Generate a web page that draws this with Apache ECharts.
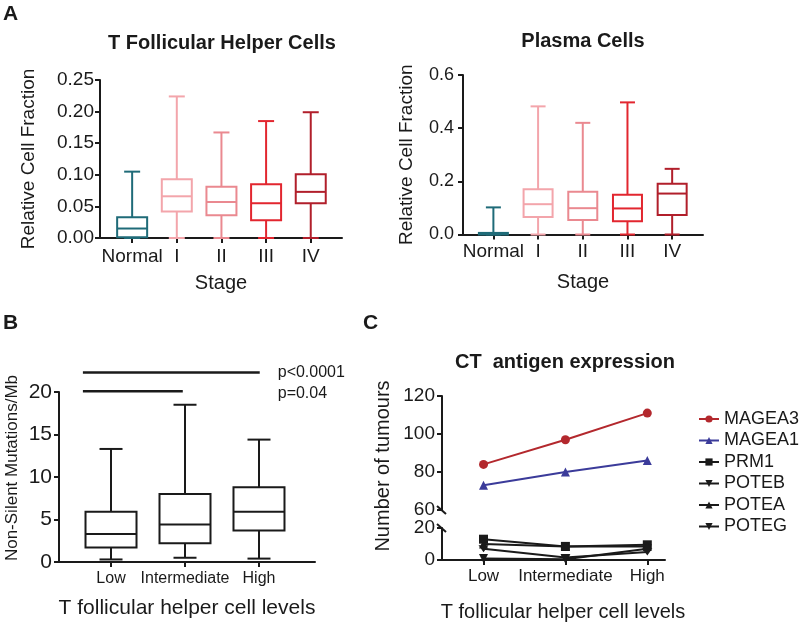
<!DOCTYPE html>
<html>
<head>
<meta charset="utf-8">
<script src="https://cdn.jsdelivr.net/npm/echarts@6/dist/echarts.min.js"></script>
<style>
  html, body { margin: 0; padding: 0; background: #fff; }
  #chart { width: 800px; height: 625px; }
</style>
</head>
<body>
<div id="chart"></div>
<script>
// panel A: stages, box stats as [min, Q1, median, Q3, max]
const stages = ['Normal', 'I', 'II', 'III', 'IV']
const stageColors = ['#1f6b78', '#f3a5ab', '#ea8990', '#e2262f', '#b11f2b']
const tfhBoxes = [
  [0, 0.001, 0.015, 0.033, 0.105],
  [0, 0.042, 0.066, 0.093, 0.224],
  [0, 0.036, 0.057, 0.081, 0.167],
  [0, 0.028, 0.055, 0.085, 0.185],
  [0, 0.055, 0.073, 0.101, 0.199]
]
const plasmaBoxes = [
  [0, 0, 0.003, 0.006, 0.102],
  [0, 0.066, 0.114, 0.170, 0.482],
  [0, 0.055, 0.099, 0.161, 0.420],
  [0, 0.050, 0.098, 0.150, 0.497],
  [0, 0.073, 0.154, 0.191, 0.247]
]

// panel B
const levels = ['Low', 'Intermediate', 'High']
const mutationBoxes = [
  [0.3, 1.7, 3.3, 5.9, 13.3],
  [0.5, 2.2, 4.4, 8.0, 18.5],
  [0.4, 3.7, 5.9, 8.8, 14.4]
]
// significance bars: [from, to, height]
const sigBars = [[-0.38, 2.01, 22.3], [-0.38, 0.97, 20.1]]
const sigLabels = ['p<0.0001', 'p=0.04']

// panel C
const antigenNames = ['MAGEA3', 'MAGEA1', 'PRM1', 'POTEB', 'POTEA', 'POTEG']
const antigenCounts = [
  [84, 97, 111],
  [73, 80, 86],
  [13, 8.5, 9.5],
  [1, 0.5, 7],
  [10, 8.5, 8.5],
  [7, 1.5, 5]
]

const ink = '#1a1a1a'
const fontFamily = 'Liberation Sans'
const chart = echarts.init(document.getElementById('chart'))

function boxRenderer(boxWidth, capWidth, colors) {
  return function (params, api) {
    const x = api.value(0)
    const pt = i => api.coord([x, api.value(i)])
    const lo = pt(1), q1 = pt(2), md = pt(3), q3 = pt(4), hi = pt(5)
    const cx = lo[0], hw = boxWidth / 2, hc = capWidth / 2
    const style = { stroke: colors[params.dataIndex], lineWidth: 2, fill: 'none' }
    const seg = (x1, y1, x2, y2) => ({ type: 'line', shape: { x1, y1, x2, y2 }, style })
    return {
      type: 'group',
      children: [
        { type: 'rect', shape: { x: cx - hw, y: q3[1], width: boxWidth, height: q1[1] - q3[1] }, style },
        seg(cx - hw, md[1], cx + hw, md[1]),
        seg(cx, q3[1], cx, hi[1]),
        seg(cx, q1[1], cx, lo[1]),
        seg(cx - hc, hi[1], cx + hc, hi[1]),
        seg(cx - hc, lo[1], cx + hc, lo[1])
      ]
    }
  }
}

const axisLine = { show: true, onZero: false, lineStyle: { color: ink, width: 2 } }
const axisTick = { show: true, length: 5, lineStyle: { color: ink, width: 2 } }

function catX(gridIndex, min, max, names, fontSize, margin, extra) {
  const ticks = names.map((_, i) => i)
  return Object.assign({
    type: 'value', gridIndex, min, max,
    splitLine: { show: false },
    axisLine,
    axisTick: Object.assign({ customValues: ticks }, axisTick),
    axisLabel: { customValues: ticks, formatter: v => names[v], color: ink, fontSize, margin }
  }, extra || {})
}

function valY(gridIndex, min, max, interval, digits, fontSize, margin, extra) {
  return Object.assign({
    type: 'value', gridIndex, min, max, interval,
    splitLine: { show: false },
    axisLine,
    axisTick,
    axisLabel: { formatter: v => v.toFixed(digits), color: ink, fontSize, margin }
  }, extra || {})
}

const axisName = size => ({ color: ink, fontSize: size })

const option = {
  animation: false,
  backgroundColor: '#fff',
  textStyle: { fontFamily },
  grid: [
    { left: 100, top: 80, width: 242, height: 158, outerBoundsMode: 'none' },
    { left: 463, top: 75, width: 240, height: 159.5, outerBoundsMode: 'none' },
    { left: 59, top: 392, width: 256, height: 170, outerBoundsMode: 'none' },
    { left: 442, top: 396, width: 223, height: 114, outerBoundsMode: 'none' },
    { left: 442, top: 528, width: 223, height: 32, outerBoundsMode: 'none' }
  ],
  xAxis: [
    catX(0, -0.72, 4.7, stages, 19, 9, { name: 'Stage', nameLocation: 'middle', nameGap: 35, nameTextStyle: axisName(20) }),
    catX(1, -0.68, 4.69, stages, 19, 8, { name: 'Stage', nameLocation: 'middle', nameGap: 38, nameTextStyle: axisName(20) }),
    catX(2, -0.703, 2.757, levels, 16, 9, { name: 'T follicular helper cell levels', nameLocation: 'middle', nameGap: 36, nameTextStyle: axisName(21) }),
    { type: 'value', gridIndex: 3, min: -0.507, max: 2.216, show: false },
    catX(4, -0.507, 2.216, levels, 17, 8)
  ],
  yAxis: [
    valY(0, 0, 0.25, 0.05, 2, 19, 6, { name: 'Relative Cell Fraction', nameLocation: 'middle', nameGap: 62, nameTextStyle: axisName(19) }),
    valY(1, 0, 0.6, 0.2, 1, 18, 9, { name: 'Relative Cell Fraction', nameLocation: 'middle', nameGap: 47, nameTextStyle: axisName(19) }),
    valY(2, 0, 20, 5, 0, 21, 7, {
      name: 'Non-Silent Mutations/Mb', nameLocation: 'middle', nameGap: 38,
      nameTextStyle: Object.assign({ padding: [0, 0, 0, 18] }, axisName(17))
    }),
    valY(3, 60, 120, 20, 0, 19, 7),
    valY(4, 0, 20, 20, 0, 19, 7)
  ],
  legend: {
    data: antigenNames,
    orient: 'vertical',
    left: 698, top: 410,
    itemWidth: 20, itemHeight: 9, itemGap: 3.5,
    padding: 0,
    textStyle: { color: ink, fontSize: 18 }
  },
  series: [
    {
      type: 'custom', xAxisIndex: 0, yAxisIndex: 0,
      renderItem: boxRenderer(30, 16, stageColors),
      encode: { x: 0, y: [1, 2, 3, 4, 5] },
      data: tfhBoxes.map((b, i) => [i].concat(b))
    },
    {
      type: 'custom', xAxisIndex: 1, yAxisIndex: 1,
      renderItem: boxRenderer(29, 15, stageColors),
      encode: { x: 0, y: [1, 2, 3, 4, 5] },
      data: plasmaBoxes.map((b, i) => [i].concat(b))
    },
    {
      type: 'custom', xAxisIndex: 2, yAxisIndex: 2,
      renderItem: boxRenderer(51, 23, levels.map(() => ink)),
      encode: { x: 0, y: [1, 2, 3, 4, 5] },
      data: mutationBoxes.map((b, i) => [i].concat(b))
    }
  ].concat(sigBars.map(([from, to, h]) => ({
    type: 'line', xAxisIndex: 2, yAxisIndex: 2, clip: false,
    symbol: 'none', silent: true,
    lineStyle: { color: ink, width: 2.5 },
    data: [[from, h], [to, h]]
  }))).concat(antigenNames.map((name, i) => {
    const symbols = [
      { symbol: 'circle', symbolSize: 9 },
      { symbol: 'triangle', symbolSize: 9 },
      { symbol: 'rect', symbolSize: 9 },
      { symbol: 'triangle', symbolSize: 9, symbolRotate: 180 },
      { symbol: 'triangle', symbolSize: 9 },
      { symbol: 'triangle', symbolSize: [10, 7], symbolRotate: 180 }
    ]
    const color = i === 0 ? '#b3282d' : i === 1 ? '#3b3b9a' : ink
    const upper = i < 2
    return Object.assign({
      name, type: 'line',
      xAxisIndex: upper ? 3 : 4, yAxisIndex: upper ? 3 : 4,
      clip: false,
      lineStyle: { color, width: 2 },
      itemStyle: { color },
      data: antigenCounts[i].map((v, j) => [j, v])
    }, symbols[i])
  }))
}

chart.setOption(option)

// texts and decorations placed after layout
const barEnd = chart.convertToPixel({ xAxisIndex: 2, yAxisIndex: 2 }, [sigBars[0][1], sigBars[0][2]])
const bar2 = chart.convertToPixel({ xAxisIndex: 2, yAxisIndex: 2 }, [sigBars[1][1], sigBars[1][2]])
const brkTop = chart.convertToPixel({ xAxisIndex: 3, yAxisIndex: 3 }, [-0.507, 60])
const brkBot = chart.convertToPixel({ xAxisIndex: 4, yAxisIndex: 4 }, [-0.507, 20])

function txt(text, x, y, size, opts) {
  return Object.assign({
    type: 'text', x, y,
    style: Object.assign({
      text, fill: ink, font: (opts && opts.bold ? 'bold ' : '') + size + 'px "' + fontFamily + '"',
      align: 'center', verticalAlign: 'middle'
    }, (opts && opts.style) || {})
  }, (opts && opts.el) || {})
}

const brkStyle = { stroke: ink, lineWidth: 2 }
chart.setOption({
  graphic: [
    txt('A', 3, 14, 21, { bold: true, style: { align: 'left' } }),
    txt('B', 3, 323, 21, { bold: true, style: { align: 'left' } }),
    txt('C', 363, 323, 21, { bold: true, style: { align: 'left' } }),
    txt('T Follicular Helper Cells', 222, 43, 20, { bold: true }),
    txt('Plasma Cells', 583, 41, 20, { bold: true }),
    txt('CT  antigen expression', 565, 362, 20, { bold: true }),
    txt('Number of tumours', 383, 466, 20, { el: { rotation: Math.PI / 2 } }),
    txt('T follicular helper cell levels', 563, 612, 20),
    txt(sigLabels[0], barEnd[0] + 18, barEnd[1], 16, { style: { align: 'left' } }),
    txt(sigLabels[1], barEnd[0] + 18, bar2[1] + 2, 16, { style: { align: 'left' } }),
    { type: 'rect', shape: { x: brkTop[0] - 3, y: brkTop[1] + 1, width: 6, height: brkBot[1] - brkTop[1] - 2 }, style: { fill: '#fff' } },
    { type: 'line', shape: { x1: brkTop[0] - 5, y1: brkTop[1] - 4, x2: brkTop[0] + 4, y2: brkTop[1] + 4 }, style: brkStyle },
    { type: 'line', shape: { x1: brkBot[0] - 5, y1: brkBot[1] - 4, x2: brkBot[0] + 4, y2: brkBot[1] + 4 }, style: brkStyle }
  ]
})
</script>
</body>
</html>
